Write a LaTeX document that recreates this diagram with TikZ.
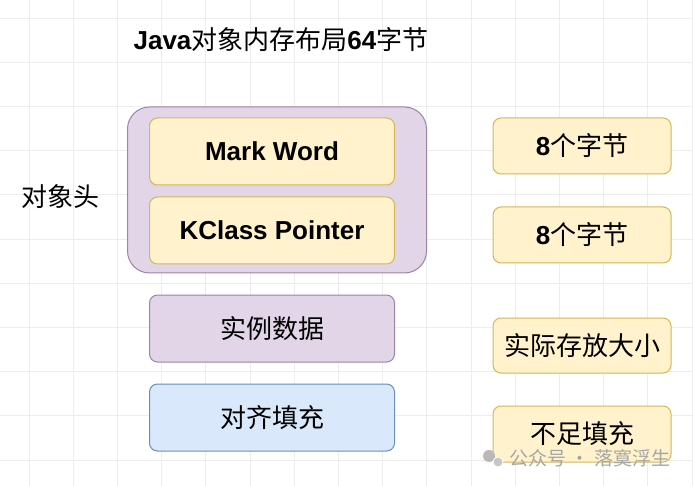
\documentclass[tikz,border=0pt]{standalone}
\usepackage{fontspec}
\setmainfont{Liberation Sans}
\newfontfamily\cjk{Noto Sans CJK SC}
\usetikzlibrary{positioning}
\definecolor{gridgray}{HTML}{EDEDED}
\definecolor{purplefill}{HTML}{E1D5E7}
\definecolor{purpleline}{HTML}{9A85A8}
\definecolor{yellowfill}{HTML}{FFF2CC}
\definecolor{yellowline}{HTML}{D6B656}
\definecolor{bluefill}{HTML}{DAE8FC}
\definecolor{blueline}{HTML}{6C8EBF}
\tikzset{
    every node/.style={
        font=\fontsize{26}{30}\selectfont
    },
    header/.style={
        shape=rectangle,
        draw=purpleline,
        fill=purplefill,
        line width=1pt,
        rounded corners=22pt,
        minimum width=299pt,
        minimum height=166pt
    },
    field/.style={
        shape=rectangle,
        line width=1pt,
        rounded corners=8pt,
        minimum width=245pt,
        minimum height=67pt
    },
    size/.style={
        shape=rectangle,
        draw=yellowline,
        fill=yellowfill,
        line width=1pt,
        rounded corners=8pt,
        minimum width=178pt,
        minimum height=56pt
    }
}
\tikzstyle{yellowbox} = [field, draw=yellowline, fill=yellowfill]

\begin{document}
\begin{tikzpicture}[x=1pt,y=-1pt]
		\fill[white] (0,0) rectangle (693,486);
		\useasboundingbox (0,0) rectangle (693,486);
		% Grid
		\foreach \i in {0,...,15}
			\draw[gridgray, line width=0.8pt] (29+44.2*\i,0) -- (29+44.2*\i,486);
		\foreach \i in {0,...,10}
			\draw[gridgray, line width=0.8pt] (0,18+44.2*\i) -- (693,18+44.2*\i);
		\node (title) at (281,40) {\bfseries Java{\cjk\mdseries 对象内存布局}64{\cjk\mdseries 字节}};
		\node (head) at (277,190) [header] {};
		\node (n1) at (272,151.5) [yellowbox] {\bfseries Mark Word};
		\node (n2) [yellowbox, below=11pt of n1] {\bfseries KClass Pointer};
		\node (n3) [field, draw=purpleline, fill=purplefill, below=30pt of n2] {\cjk 实例数据};
		\node (n4) [field, draw=blueline, fill=bluefill, below=21pt of n3] {\cjk 对齐填充};
		\node (hl) at (60,197) {\cjk 对象头};
		% Sizes
		\node (s1) at (582,146) [size] {\bfseries 8{\cjk\mdseries 个字节}};
		\node (s2) at (582,235) [size] {\bfseries 8{\cjk\mdseries 个字节}};
		\node (s3) at (582,345.5) [size, minimum height=55pt] {\cjk 实际存放大小};
		\node (s4) at (582,434) [size] {\cjk 不足填充};
		% Watermark
		\fill[gray!55] (489,456) circle (6pt);
		\fill[gray!45, draw=white, line width=0.8pt] (498,462) circle (5pt);
		\node (wm) at (590,458) [text=gray!70, font=\fontsize{19}{22}\selectfont] {\cjk 公众号 · 落寞浮生};
	\end{tikzpicture}
\end{document}
